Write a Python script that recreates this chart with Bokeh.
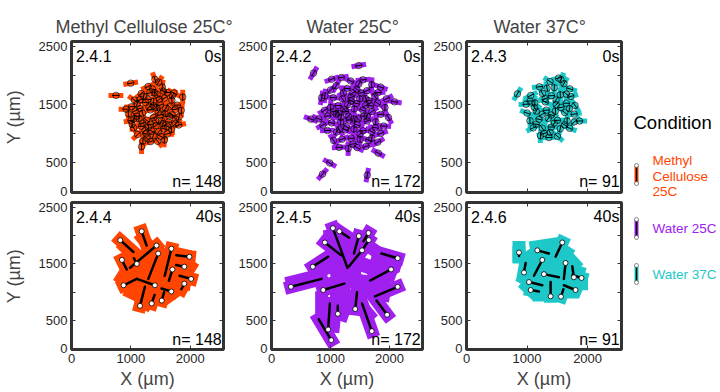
import numpy as np
from bokeh.plotting import figure
from bokeh.layouts import row, column
from bokeh.models import FixedTicker, LinearAxis, Label, Range1d
from bokeh.embed import file_html
from bokeh.resources import INLINE
from bokeh.core.properties import value

# ---------------- data ----------------
conditions = ["Methyl Cellulose 25C°", "Water 25C°", "Water 37C°"]
legend_labels = [["Methyl", "Cellulose", "25C"], ["Water 25C"], ["Water 37C"]]
colors = ["#FF4500", "#A020F0", "#1EC8C8"]
counts = [148, 172, 91]
panel_ids = [["2.4.1", "2.4.2", "2.4.3"], ["2.4.4", "2.4.5", "2.4.6"]]
times = ["0s", "40s"]
x_ticks = [0, 1000, 2000]
y_ticks = [0, 500, 1000, 1500, 2000, 2500]
y_tick_labels = {1000: "", 2000: ""}

# t = 0 s : particle centres (µm) and rod orientation (deg)
mc0_x = [748, 997, 1873, 1180, 1468, 1405, 1290, 1365, 1530, 1615, 1175, 1060, 1215, 1318, 1442, 1565, 1690,
         1780, 1012, 1108, 1248, 1384, 1502, 1651, 1752, 958, 1073, 1196, 1327, 1459, 1577, 1694, 1812,
         1003, 1136, 1262, 1382, 1517, 1636, 1754, 1047, 1178, 1296, 1427, 1551, 1685, 1116, 1257, 1378,
         1504, 1617, 1203, 1331, 1452, 1566, 1021, 1805, 1724, 1305, 1439, 1152, 1583, 1352, 1237, 1290,
         1480, 1650, 1100, 1420, 1200, 1540, 1330, 1470, 1620, 1400, 1150, 1700, 1550, 1850, 920, 1270,
         1500, 1380, 1050, 1750]
mc0_y = [1657, 1867, 1628, 774, 1885, 1935, 1810, 1765, 1800, 1705, 1690, 1575, 1640, 1700, 1672, 1610, 1575,
         1490, 1463, 1512, 1533, 1555, 1492, 1461, 1418, 1342, 1391, 1352, 1408, 1371, 1344, 1322, 1289,
         1226, 1257, 1231, 1274, 1221, 1198, 1171, 1097, 1126, 1102, 1139, 1083, 1071, 984, 993, 965,
         952, 996, 872, 861, 866, 889, 1158, 1147, 1697, 1457, 1447, 1431, 1434, 1042, 1053, 1590,
         1590, 1300, 1300, 1220, 1180, 1170, 1160, 1030, 1120, 1700, 1580, 1650, 1730, 1400, 1420, 920,
         1320, 1480, 1250, 1250]
mc0_a = [0, 10, 90, 90, 60, -70, 25, -15, 85, 5, 40, -35, 80, 15, -55, 30, 95,
         0, 5, 65, -10, 88, 20, -45, 8, 90, 28, -72, 3, 47, 92, -22, 78,
         12, 88, -38, 22, 68, -5, 42, -62, 4, 86, 33, -18, 91, 44, -2, 72,
         -28, 14, 88, 18, -52, 85, 90, 12, -28, 52, -78, 17, 58, -17, 36, -5,
         40, 10, -20, -60, 25, 85, 0, 50, -30, -80, 20, 60, -10, 90, 0, -40,
         10, -35, 70, -50]

w25_0_x = [712, 987, 865, 1624, 1810, 2083, 1480, 668, 849, 1020, 1185, 1342, 1552, 1698, 1095, 1283, 1447,
           1618, 1806, 1948, 905, 1048, 1204, 1351, 1497, 1652, 1796, 1923, 803, 952, 1098, 1254, 1402,
           1548, 1703, 1852, 1982, 872, 1018, 1172, 1318, 1471, 1623, 1768, 1903, 948, 1103, 1252, 1398,
           1552, 1698, 1852, 1052, 1198, 1352, 1502, 1648, 1803, 1148, 1302, 1452, 1602, 1128, 1292, 1442,
           1598, 1002, 1752, 1380, 1220, 1560, 1300, 1450, 1180, 1680, 1620, 1400, 1050, 1270, 1500, 1350,
           1480, 1150, 900, 1760, 1000, 1850, 1700, 1380, 1230, 1520, 1600, 1130]
w25_0_y = [2040, 493, 301, 284, 663, 1547, 2171, 1248, 1615, 1935, 1965, 1905, 1925, 1842, 1822, 1776, 1762,
           1738, 1705, 1598, 1648, 1618, 1596, 1626, 1598, 1568, 1524, 1447, 1253, 1302, 1334, 1383, 1424,
           1402, 1377, 1331, 1278, 1148, 1183, 1198, 1232, 1253, 1217, 1203, 1129, 1052, 1028, 1063, 1078,
           1048, 1033, 1002, 882, 903, 918, 898, 883, 852, 762, 742, 758, 778, 1482, 1497, 1518,
           1483, 1452, 1642, 1700, 1700, 1300, 1300, 1150, 1280, 1480, 1300, 1250, 1380, 1120, 990, 1560,
           1850, 1070, 1400, 1100, 1750, 1800, 920, 820, 1420, 1700, 1600, 1350]
w25_0_a = [60, -30, 50, 80, -30, -10, 10, -20, 80, 20, 10, -25, 5, 88, 62, -5, -42,
           22, 3, 28, 85, -3, -58, 18, 92, -4, -33, 88, -22, 4, 58, -2, 87,
           -23, 38, 2, -62, 28, -12, 88, 3, -47, 22, 86, -4, 2, 58, -22, 88,
           2, -32, 18, -58, 22, -2, 88, -22, 32, 2, 88, -28, 18, 2, 68, -12,
           28, 88, -58, 30, -70, 0, 45, -20, 80, -10, 70, -80, 15, -30, 40, -15,
           60, -60, 30, -10, 40, -20, 80, 10, -45, 10, -70, 90]

w37_0_x = [840, 1867, 1520, 1380, 1610, 1205, 1450, 1705, 1060, 1255, 1402, 1548, 1722, 985, 1128, 1302,
           1482, 1648, 1792, 1002, 1152, 1318, 1468, 1622, 1778, 1048, 1198, 1352, 1502, 1662, 1102, 1252,
           1402, 1548, 1702, 1222, 1362, 1502, 1282, 1560, 1300, 1650, 1120, 1560, 1400, 1700, 1250, 1620,
           1450, 1150, 1780, 1330, 1480, 1050, 1380]
w37_0_y = [1683, 1216, 1955, 1895, 1860, 1805, 1790, 1770, 1655, 1690, 1652, 1668, 1638, 1505, 1528, 1545,
           1498, 1522, 1485, 1352, 1386, 1402, 1383, 1362, 1335, 1222, 1245, 1262, 1228, 1218, 1098, 1093,
           1112, 1083, 1092, 962, 932, 952, 1002, 1930, 1600, 1680, 1450, 1450, 1320, 1430, 1330, 1150,
           1180, 1160, 1200, 1780, 1580, 1560, 1020]
w37_0_a = [60, 0, 15, -35, 62, 5, 88, -18, 28, -62, 3, 92, 18, 2, 88, -28,
           43, -2, -58, -22, 58, 2, 88, -42, 8, 92, -12, 52, 2, 88, 28, -58,
           -2, 78, -22, 88, 2, -42, 18, 70, 20, -40, -60, 10, -20, 80, 30, -30,
           60, -10, 40, -80, 60, 0, -60]

# t = 40 s : trajectories (µm) start -> end, drawn with a centre line, and swept area segments
mc40_x0 = [821, 1182, 1432, 1460, 1682, 1986, 2015, 877, 1404, 1154, 1682, 849, 1900, 1520, 1350, 1700, 1900, 1100]
mc40_y0 = [1919, 2075, 1823, 1683, 1767, 1626, 1234, 1121, 1121, 757, 1010, 1570, 1450, 850, 800, 1400, 1150, 1500]
mc40_x1 = [1043, 1265, 987, 1294, 1570, 1765, 1820, 1099, 1099, 1237, 1515, 930, 1760, 1560, 1400, 1640, 1850, 1050]
mc40_y1 = [1710, 1823, 1431, 1234, 1289, 1654, 1289, 1234, 1234, 1094, 1065, 1400, 1480, 1000, 950, 1200, 1050, 1600]
mc40_fx0 = [900, 1200, 1400, 1700, 1850, 1600, 1300, 1000, 850, 1550, 1250, 1000, 1600, 1300, 1150, 950, 1750, 1450, 1250]
mc40_fy0 = [1800, 1950, 1700, 1700, 1550, 1500, 1550, 1350, 1250, 1200, 1000, 1000, 900, 1350, 1150, 1500, 1250, 1750, 800]
mc40_fx1 = [1100, 1350, 1600, 1900, 2000, 1900, 1500, 1200, 1000, 1900, 1500, 1200, 1800, 1500, 1350, 1150, 1950, 1550, 1300]
mc40_fy1 = [1600, 1750, 1650, 1650, 1450, 1350, 1450, 1300, 1150, 1150, 950, 900, 1050, 1300, 1050, 1400, 1250, 1550, 900]

w25_40_x0 = [1041, 329, 1013, 960, 1700, 2028, 2139, 1650, 1535, 2139, 905, 877, 1480, 1124, 1960, 1152, 1645, 700, 1420]
w25_40_y0 = [2131, 1094, 150, 340, 310, 1402, 1094, 1920, 1739, 1599, 1878, 1037, 1991, 616, 600, 2075, 2046, 1450, 700]
w25_40_x1 = [1288, 849, 800, 990, 1535, 1671, 1753, 1535, 1316, 1864, 1178, 1234, 1398, 1124, 1780, 1316, 1560, 959, 1450]
w25_40_y1 = [1431, 1234, 520, 800, 800, 1205, 926, 1739, 1457, 1683, 1654, 1150, 1683, 757, 850, 1962, 1900, 1626, 1000]
w25_40_fx0 = [1000, 1150, 1300, 1600, 1800, 1600, 1500, 1600, 1450, 1300, 1100, 850, 1000, 1100, 750, 1300, 1400,
              1100, 1700, 1200, 350]
w25_40_fy0 = [2000, 1900, 1900, 1850, 1600, 1450, 1200, 1000, 850, 900, 900, 900, 1150, 1350, 1350, 1600, 1300,
              1700, 1200, 1100, 1180]
w25_40_fx1 = [1100, 1250, 1450, 1800, 2100, 2000, 1900, 1900, 1650, 1200, 1050, 850, 1400, 1400, 1000, 1550, 1550,
              1300, 1900, 1300, 700]
w25_40_fy1 = [1500, 1500, 1600, 1700, 1500, 1300, 1150, 950, 600, 600, 400, 650, 1250, 1400, 1450, 1500, 1050,
              1650, 1100, 850, 1270]

w37_40_x0 = [1582, 1252, 1636, 1279, 1389, 1032, 1801, 1060, 1773, 949, 1170, 867, 1900, 1560]
w37_40_y0 = [1878, 1570, 1515, 1318, 926, 1178, 1037, 1037, 1262, 1346, 1739, 1700, 1250, 920]
w37_40_x1 = [1472, 1114, 1608, 1526, 1389, 1252, 1608, 1196, 1747, 977, 1361, 867, 1750, 1600]
w37_40_y1 = [1626, 1289, 1234, 1262, 1178, 1121, 1121, 1010, 1458, 1515, 1683, 1640, 1300, 1050]
w37_40_fx0 = [1150, 1500, 1650, 1700, 1750, 1500, 1200, 1000, 950, 1000, 1250, 1400, 1300, 1550, 1150, 867]
w37_40_fy0 = [1800, 1800, 1650, 1400, 1150, 1000, 950, 1100, 1250, 1600, 1450, 1600, 1200, 1200, 1200, 1790]
w37_40_fx1 = [1450, 1650, 1780, 1850, 1900, 1750, 1400, 1100, 1050, 1150, 1500, 1500, 1500, 1650, 1300, 867]
w37_40_fy1 = [1850, 1700, 1500, 1350, 1150, 1000, 950, 1000, 1450, 1700, 1450, 1350, 1150, 1100, 1050, 1620]

static_sets = [(mc0_x, mc0_y, mc0_a), (w25_0_x, w25_0_y, w25_0_a), (w37_0_x, w37_0_y, w37_0_a)]
track_sets = [(mc40_x0, mc40_y0, mc40_x1, mc40_y1), (w25_40_x0, w25_40_y0, w25_40_x1, w25_40_y1),
              (w37_40_x0, w37_40_y0, w37_40_x1, w37_40_y1)]
fill_sets = [(mc40_fx0, mc40_fy0, mc40_fx1, mc40_fy1), (w25_40_fx0, w25_40_fy0, w25_40_fx1, w25_40_fy1),
             (w37_40_fx0, w37_40_fy0, w37_40_fx1, w37_40_fy1)]

# ---------------- style ----------------
FONT = "Liberation Sans"
X_RANGE = (0, 2560)
Y_RANGE = (-15, 2585)
FRAME_C = "#333333"
ROD_HALF = 125.0     # half length of the rod drawn at t=0 (µm)
CORE_HALF = 60.0
BAND_W = 13


def style_axis(ax, ticks, labels=True, overrides=None):
    ax.ticker = FixedTicker(ticks=ticks)
    ax.major_tick_in = 4
    ax.major_tick_out = 0
    ax.minor_tick_line_color = None
    ax.major_tick_line_color = FRAME_C
    ax.axis_line_color = None
    if labels:
        ax.major_label_text_font = FONT
        ax.major_label_text_font_size = "13px"
        ax.major_label_text_color = "#262626"
        ax.major_label_standoff = 4
        if overrides:
            ax.major_label_overrides = overrides
    else:
        ax.major_label_text_font_size = "1px"
        ax.major_label_text_color = None
        ax.major_label_standoff = 0


def make_panel(r, c):
    widths = [235, 195, 196]
    lefts = [69, 33, 36]
    rights = [12, 8, 5]
    title_offsets = [-16, 35, 27]
    if r == 0:
        h, bt, bb = 200, 41, 8
    else:
        h, bt, bb = 191, 2, 39
    p = figure(width=widths[c], height=h, x_range=Range1d(*X_RANGE), y_range=Range1d(*Y_RANGE),
               output_backend="svg", toolbar_location=None,
               min_border_left=lefts[c], min_border_right=rights[c],
               min_border_top=bt, min_border_bottom=bb)
    p.grid.visible = False
    p.outline_line_color = FRAME_C
    p.outline_line_width = 3
    p.background_fill_color = "white"
    p.border_fill_color = "white"

    style_axis(p.xaxis[0], x_ticks, labels=(r == 1))
    style_axis(p.yaxis[0], y_ticks, labels=True, overrides=y_tick_labels)
    if r == 1:
        p.xaxis[0].axis_label = "X (µm)"
        p.xaxis[0].axis_label_text_font = FONT
        p.xaxis[0].axis_label_text_font_size = "18px"
        p.xaxis[0].axis_label_text_font_style = "normal"
        p.xaxis[0].axis_label_standoff = 3
    if c == 0:
        p.yaxis[0].axis_label = "Y (µm)"
        p.yaxis[0].axis_label_text_font = FONT
        p.yaxis[0].axis_label_text_font_size = "18px"
        p.yaxis[0].axis_label_text_font_style = "normal"
        p.yaxis[0].axis_label_standoff = 12
    top_ax = LinearAxis()
    style_axis(top_ax, x_ticks, labels=False)
    p.add_layout(top_ax, "above")
    right_ax = LinearAxis()
    style_axis(right_ax, y_ticks, labels=False)
    p.add_layout(right_ax, "right")

    if r == 0:
        p.title.text = conditions[c]
        p.title.align = "left"
        p.title.offset = title_offsets[c]
        p.title.text_font = FONT
        p.title.text_font_size = "18px"
        p.title.text_font_style = "normal"
        p.title.standoff = 10

    col = colors[c]
    if r == 0:
        xs, ys, angs = (np.array(v, dtype=float) for v in static_sets[c])
        a = np.deg2rad(angs)
        dx, dy = np.cos(a), np.sin(a)
        p.segment(x0=xs - ROD_HALF * dx, y0=ys - ROD_HALF * dy, x1=xs + ROD_HALF * dx, y1=ys + ROD_HALF * dy,
                  line_color=col, line_width=5)
        p.segment(x0=xs - CORE_HALF * dx, y0=ys - CORE_HALF * dy, x1=xs + CORE_HALF * dx, y1=ys + CORE_HALF * dy,
                  line_color="black", line_width=1)
        p.scatter(xs, ys, marker="circle", size=6.5, fill_color=None, line_color="black",
                  line_width=0.8, line_alpha=0.85)
    else:
        x0, y0, x1, y1 = (np.array(v, dtype=float) for v in track_sets[c])
        fx0, fy0, fx1, fy1 = (np.array(v, dtype=float) for v in fill_sets[c])
        p.segment(x0=fx0, y0=fy0, x1=fx1, y1=fy1, line_color=col, line_width=BAND_W, line_cap="square")
        p.segment(x0=x0, y0=y0, x1=x1, y1=y1, line_color=col, line_width=BAND_W, line_cap="square")
        p.segment(x0=x0, y0=y0, x1=x1, y1=y1, line_color="black", line_width=2.5, line_cap="round")
        p.scatter(x0, y0, marker="circle", size=5, fill_color="white", line_color="black", line_width=0.8)

    common = dict(text_font=FONT, text_font_size="16px", text_color="black", text_baseline="middle")
    p.add_layout(Label(x=75, y=2330, text=panel_ids[r][c], text_align="left", **common))
    p.add_layout(Label(x=2525, y=2330, text=times[r], text_align="right", **common))
    p.add_layout(Label(x=2530, y=170, text="n= %d" % counts[c], text_align="right", **common))
    return p


figs = [[make_panel(r, c) for c in range(3)] for r in range(2)]

# ---------------- legend ----------------
LW, LH = 92, 391
leg = figure(width=LW, height=LH, x_range=Range1d(0, LW), y_range=Range1d(LH, 0),
             output_backend="svg", toolbar_location=None, x_axis_location=None, y_axis_location=None,
             min_border_left=0, min_border_right=0, min_border_top=0, min_border_bottom=0)
leg.grid.visible = False
leg.outline_line_color = None
leg.text(x=[7], y=[122], text=["Condition"], text_font=value(FONT), text_font_size="18.5px",
         text_baseline="middle", text_color="black")
item_text_y = [[160, 175.5, 191], [228], [274]]
item_bar = [(165, 183), (219, 237), (265, 282)]
for i in range(3):
    ys = item_text_y[i]
    leg.text(x=[26] * len(ys), y=ys, text=legend_labels[i], text_font=value(FONT), text_font_size="13.5px",
             text_baseline="middle", text_color=colors[i])
    b0, b1 = item_bar[i]
    leg.segment(x0=[10], y0=[b0], x1=[10], y1=[b1], line_color=colors[i], line_width=4)
    leg.segment(x0=[10], y0=[b0], x1=[10], y1=[b1], line_color="black", line_width=1.5)
    leg.scatter([10, 10], [b0, b1], marker="circle", size=4, fill_color="white", line_color="#555555",
                line_width=0.7)

layout = row(column(row(*figs[0]), row(*figs[1])), leg)
open("out.html", "w").write(file_html(layout, INLINE))
